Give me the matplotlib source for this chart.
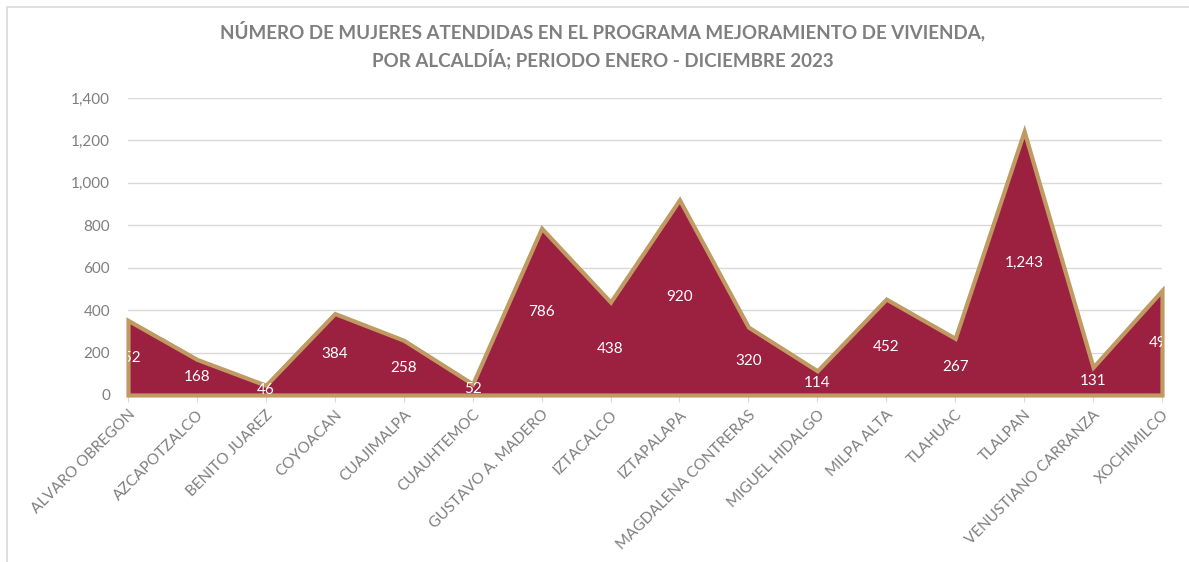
import matplotlib
matplotlib.use("Agg")
import matplotlib.pyplot as plt
from matplotlib.ticker import FuncFormatter, MultipleLocator
from matplotlib.patches import Rectangle

categories = ["ALVARO OBREGON", "AZCAPOTZALCO", "BENITO JUAREZ", "COYOACAN",
              "CUAJIMALPA", "CUAUHTEMOC", "GUSTAVO A. MADERO", "IZTACALCO",
              "IZTAPALAPA", "MAGDALENA CONTRERAS", "MIGUEL HIDALGO", "MILPA ALTA",
              "TLAHUAC", "TLALPAN", "VENUSTIANO CARRANZA", "XOCHIMILCO"]
values = [352, 168, 46, 384, 258, 52, 786, 438, 920, 320, 114, 452, 267, 1243, 131, 493]
title = "NÚMERO DE MUJERES ATENDIDAS EN EL PROGRAMA MEJORAMIENTO DE VIVIENDA,\nPOR ALCALDÍA; PERIODO ENERO - DICIEMBRE 2023"

plt.rcParams['font.family'] = ['Lato', 'DejaVu Sans']
gray = "#7f7f7f"
fill_c = "#9c2141"
edge_c = "#bf9a62"

fig = plt.figure(figsize=(11.89, 5.62), dpi=100)
fig.patches.append(Rectangle((7/1189, -0.1), 1.2, 1 - 7/562 + 0.1, transform=fig.transFigure,
                             fill=False, edgecolor="#d9d9d9", linewidth=1.2))
ax = fig.add_axes([128/1189, 1 - 395/562, (1162 - 128)/1189, (395 - 98)/562])

x = list(range(len(categories)))
ax.fill_between(x, values, 0, facecolor=fill_c, edgecolor=edge_c, linewidth=3, zorder=3,
                joinstyle="miter", clip_on=False)
ax.set_xlim(0, len(categories) - 1)
ax.set_ylim(0, 1400)
ax.yaxis.set_major_locator(MultipleLocator(200))
ax.yaxis.set_major_formatter(FuncFormatter(lambda v, p: f"{int(v):,}"))
ax.grid(axis="y", color="#d9d9d9", linewidth=1, zorder=0)
ax.set_axisbelow(True)
for s in ["top", "right", "left"]:
    ax.spines[s].set_visible(False)
ax.spines["bottom"].set_color("#d9d9d9")
ax.set_xticks(x)
ax.set_xticklabels(categories, rotation=45, ha="right", rotation_mode="anchor")
ax.tick_params(axis="x", colors="#d9d9d9", length=5, labelcolor=gray, labelsize=11, pad=4)
ax.tick_params(axis="y", length=0, labelcolor=gray, labelsize=11, pad=13)

for xi, v in zip(x, values):
    ax.text(xi, v / 2, f"{v:,}", ha="center", va="center", color="white",
            fontsize=11, zorder=5, clip_on=True)

fig.text(603/1189, 1 - 45/562, title, ha="center", va="center", fontsize=13.5,
         fontweight="bold", color=gray, linespacing=1.45)

fig.savefig("out.png", dpi=100)
